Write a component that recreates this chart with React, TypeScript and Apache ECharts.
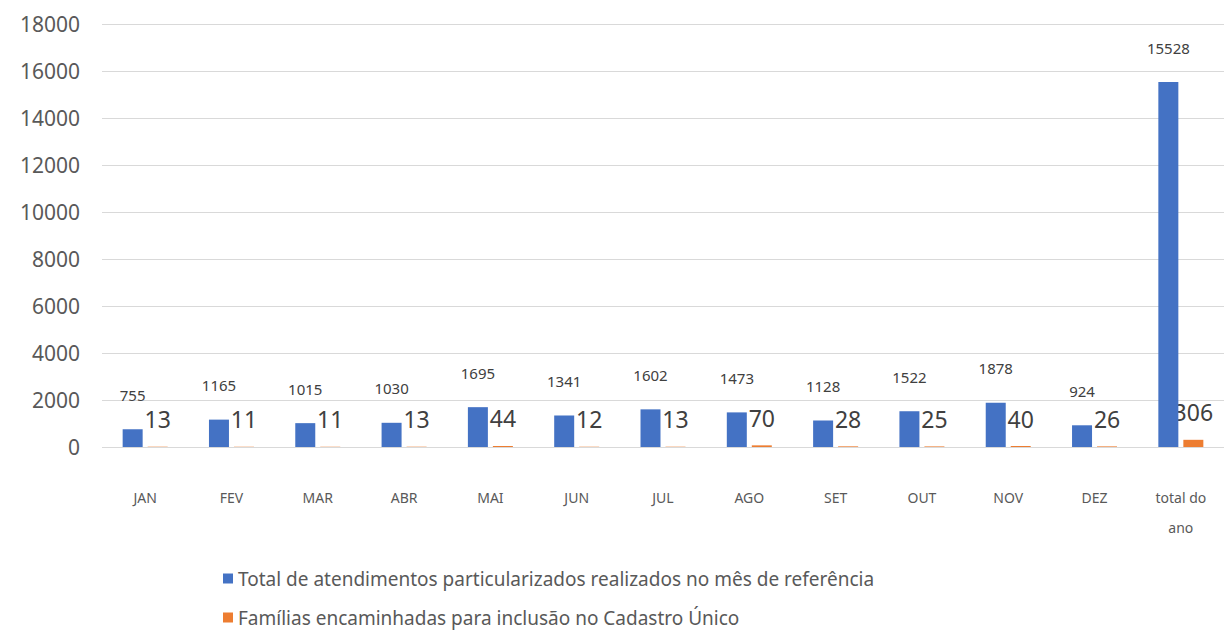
import React, { useEffect, useRef } from "react";
import * as echarts from "echarts";

const categories = ["JAN", "FEV", "MAR", "ABR", "MAI", "JUN", "JUL", "AGO", "SET", "OUT", "NOV", "DEZ", "total do\nano"];
const atendimentos = [755, 1165, 1015, 1030, 1695, 1341, 1602, 1473, 1128, 1522, 1878, 924, 15528];
const familias = [13, 11, 11, 13, 44, 12, 13, 70, 28, 25, 40, 26, 306];
const yTicks = { min: 0, max: 18000, interval: 2000 };
const seriesNames = [
  "Total de atendimentos particularizados realizados no mês de referência",
  "Famílias encaminhadas para inclusão no Cadastro Único",
];

const FONT = "'Noto Sans', 'Open Sans', sans-serif";

export default function App() {
  const ref = useRef<HTMLDivElement>(null);
  useEffect(() => {
    if (!ref.current) return;
    const chart = echarts.init(ref.current, undefined, { renderer: "svg" });
    chart.setOption({
      animation: false,
      backgroundColor: "#ffffff",
      textStyle: { fontFamily: FONT },
      grid: { left: 102, right: -4, top: 24, bottom: 193, containLabel: false },
      legend: {
        orient: "vertical",
        left: 218,
        top: 564,
        itemWidth: 10,
        itemHeight: 10,
        itemGap: 20,
        icon: "rect",
        textStyle: { fontSize: 19, color: "#595959", fontFamily: FONT },
        data: seriesNames,
      },
      xAxis: {
        type: "category",
        data: categories,
        axisLine: { show: false },
        axisTick: { show: false },
        axisLabel: { color: "#595959", fontSize: 14, margin: 35, lineHeight: 30, fontFamily: FONT },
      },
      yAxis: {
        type: "value",
        min: yTicks.min,
        max: yTicks.max,
        interval: yTicks.interval,
        axisLine: { show: false },
        axisTick: { show: false },
        splitLine: { lineStyle: { color: "#d9d9d9", width: 1 } },
        axisLabel: {
          color: "#595959",
          fontSize: 21,
          margin: 22,
          fontFamily: FONT,
          formatter: (v: number) => String(v),
        },
      },
      series: [
        {
          name: seriesNames[0],
          type: "bar",
          data: atendimentos,
          barWidth: 20,
          barGap: "25%",
          itemStyle: { color: "#4472C4" },
          z: 3,
          label: {
            show: true,
            position: "top",
            distance: 27,
            fontSize: 15,
            color: "#404040",
            fontFamily: FONT,
          },
        },
        {
          name: seriesNames[1],
          type: "bar",
          data: familias,
          barWidth: 20,
          itemStyle: { color: "#ED7D31" },
          z: 2,
          label: {
            show: true,
            position: "top",
            distance: 16,
            fontSize: 23,
            color: "#404040",
            fontFamily: FONT,
          },
        },
      ],
    });
    return () => chart.dispose();
  }, []);
  return <div ref={ref} style={{ width: 1224, height: 640, position: "absolute", left: 0, top: 0 }} />;
}
